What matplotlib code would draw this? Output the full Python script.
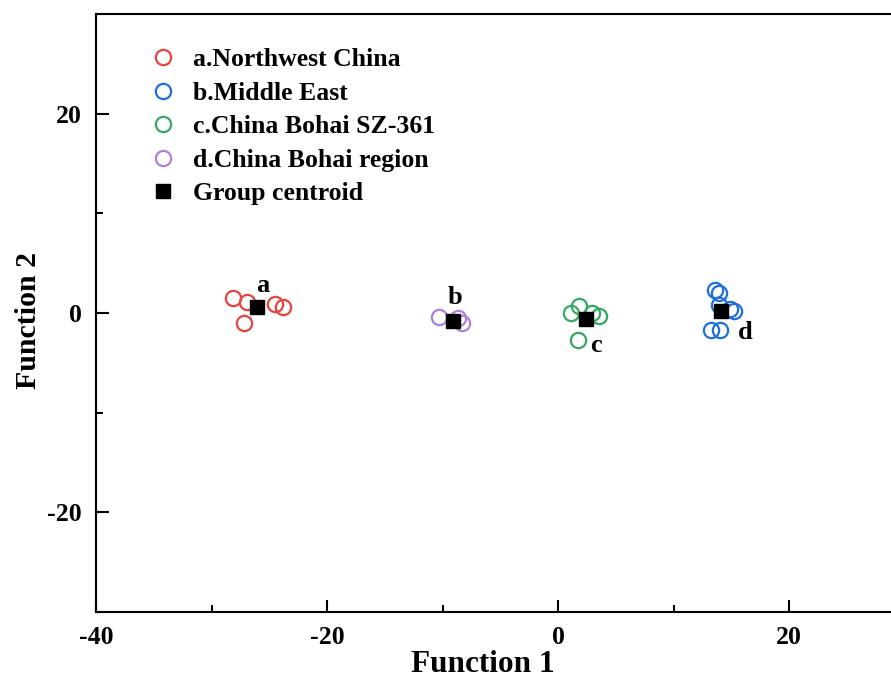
import numpy as np
import matplotlib
matplotlib.use("Agg")
import matplotlib.pyplot as plt
from matplotlib.ticker import MultipleLocator

plt.rcParams['font.family'] = ['Liberation Serif', 'DejaVu Serif']
plt.rcParams['font.weight'] = 'bold'
plt.rcParams['axes.unicode_minus'] = False

# discriminant scores
nw_x = [-28.1, -26.9, -27.2, -24.5, -23.8]
nw_y = [1.5, 1.1, -1.0, 0.9, 0.6]
me_x = [13.6, 13.9, 13.9, 14.9, 15.2, 13.2, 14.0]
me_y = [2.3, 2.0, 0.8, 0.4, 0.2, -1.7, -1.7]
sz_x = [1.1, 1.8, 2.9, 3.5, 1.7]
sz_y = [0.0, 0.7, 0.0, -0.3, -2.7]
bh_x = [-10.3, -8.7, -8.3]
bh_y = [-0.4, -0.5, -1.0]

cen_x = [-26.1, -9.1, 2.4, 14.1]
cen_y = [0.6, -0.8, -0.6, 0.2]
cen_lab = ['a', 'b', 'c', 'd']
lab_x = [-25.6, -8.9, 3.3, 16.2]
lab_y = [2.8, 1.6, -3.3, -1.9]

fig = plt.figure(figsize=(8.91, 6.77), dpi=100)
ax = fig.add_axes([0.1077, 0.096, 0.8923, 0.883])

ms = 11
mew = 1.6
ax.plot(nw_x, nw_y, 'o', mfc='none', mec='#E8433D', ms=ms, mew=mew, label='a.Northwest China')
ax.plot(me_x, me_y, 'o', mfc='none', mec='#1E6FE0', ms=ms, mew=mew, label='b.Middle East')
ax.plot(sz_x, sz_y, 'o', mfc='none', mec='#35A862', ms=ms, mew=mew, label='c.China Bohai SZ-361')
ax.plot(bh_x, bh_y, 'o', mfc='none', mec='#B07EE0', ms=ms, mew=mew, label='d.China Bohai region')
ax.plot(cen_x, cen_y, 's', color='black', ms=9.5, label='Group centroid')

for lx, ly, t in zip(lab_x, lab_y, cen_lab):
    ax.text(lx, ly, t, fontsize=19, fontweight='bold', ha='center', va='center')

ax.set_xlim(-40, 28.8)
ax.set_ylim(-30, 30)
ax.xaxis.set_major_locator(MultipleLocator(20))
ax.xaxis.set_minor_locator(MultipleLocator(10))
ax.yaxis.set_major_locator(MultipleLocator(20))
ax.yaxis.set_minor_locator(MultipleLocator(10))
ax.tick_params(which='major', direction='in', length=9, width=1.5, labelsize=18.5, pad=10)
ax.tick_params(which='minor', direction='in', length=5, width=1.5)
for lbl in ax.get_xticklabels() + ax.get_yticklabels():
    lbl.set_fontweight('bold')
for s in ['left', 'bottom', 'top']:
    ax.spines[s].set_linewidth(1.5)
ax.spines['right'].set_visible(False)

ax.set_xlabel('Function 1', fontsize=22.5, fontweight='bold')
ax.set_ylabel('Function 2', fontsize=21.5, fontweight='bold')
ax.xaxis.set_label_coords(0.487, -0.063)
ax.yaxis.set_label_coords(-0.068, 0.488)

leg = ax.legend(loc='upper left', bbox_to_anchor=(0.036, 0.982), frameon=False,
                prop={'size': 18.5, 'weight': 'bold'}, handletextpad=0.55,
                labelspacing=0.41, handlelength=1.2)

fig.savefig('out.png', dpi=100)
